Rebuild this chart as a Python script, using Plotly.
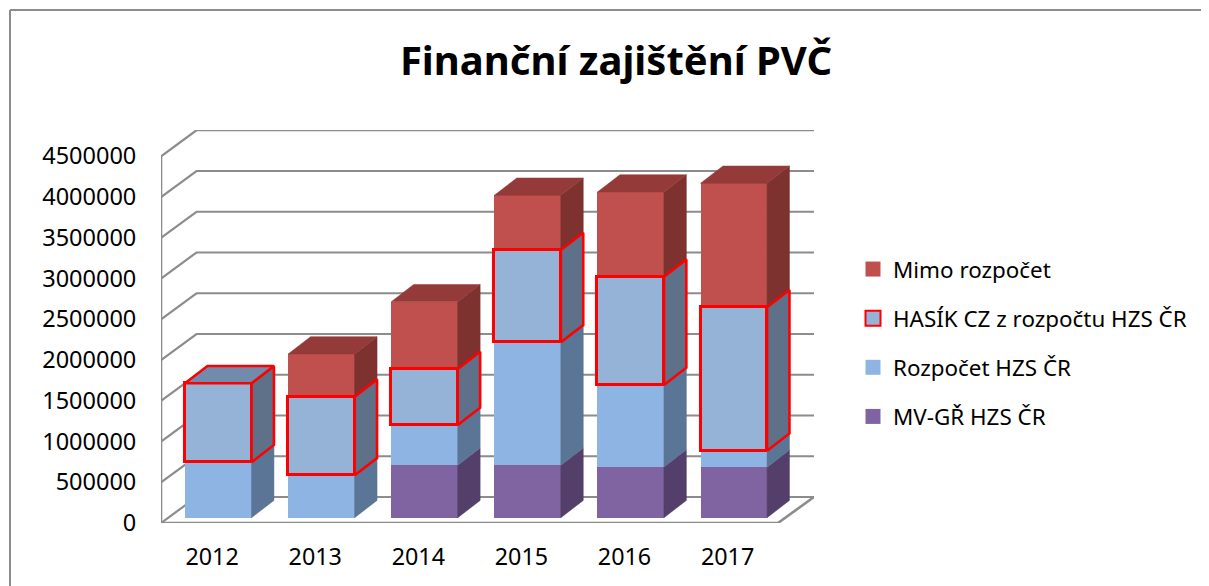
import plotly.graph_objects as go

years = ["2012", "2013", "2014", "2015", "2016", "2017"]
mv_gr = [0, 0, 643000, 643000, 622000, 618000]
rozpocet = [680000, 520000, 494000, 1509000, 1006000, 204000]
hasik = [969000, 965000, 688000, 1133000, 1329000, 1760000]
mimo = [0, 524000, 825000, 671000, 1039000, 1521000]
y_ticks = [0, 500000, 1000000, 1500000, 2000000, 2500000, 3000000, 3500000, 4000000, 4500000]

# Page has an 8 px body margin; figure coordinates below are reference pixels minus that margin
OFF = 8
W, H = 1209, 586 - OFF
L, R, T, B = 161 - OFF, 814 - OFF, 130 - OFF, 523 - OFF

# Scales and pseudo-3D projection
PX_X = 103.1
PX_Y = 81.5 / 1e6
BAR_ZERO_PX = 517.7 - OFF
BAR_CENTER0 = 218.3 - OFF
BAR_W = 66.5 / PX_X
DX_BAR, DY_BAR = 22.4 / PX_X, 17.3 / PX_Y
DX_WALL, DY_WALL = 35.5 / PX_X, 26 / PX_Y
x0 = (L - BAR_CENTER0) / PX_X
x1 = (R - BAR_CENTER0) / PX_X
x_front_end = (778 - OFF - BAR_CENTER0) / PX_X
y_top = (B - T) / PX_Y
y2_lo = -(B - BAR_ZERO_PX) / PX_Y
y2_hi = (BAR_ZERO_PX - T) / PX_Y


def paper_x(px):
    return (px - OFF - L) / (R - L)


def paper_y(py):
    return 1 - (py - OFF - T) / (B - T)


GRID = "#8c8c8c"
RED = "#ff0000"
xpos = list(range(len(years)))

fig = go.Figure()

# Back wall, side wall and floor
gx, gy = [], []
for v in y_ticks:
    gx += [x0, x0 + DX_WALL, x1, None]
    gy += [v, v + DY_WALL, v + DY_WALL, None]
fig.add_trace(go.Scatter(x=gx, y=gy, mode="lines", line=dict(color=GRID, width=2.2),
                         hoverinfo="skip", showlegend=False, cliponaxis=False))
fig.add_trace(go.Scatter(x=[x0, x0, x_front_end, x1], y=[y_ticks[-1], 0, 0, DY_WALL],
                         mode="lines", line=dict(color=GRID, width=2.6),
                         hoverinfo="skip", showlegend=False, cliponaxis=False))


def cumulate(*layers):
    out = [0] * len(years)
    for layer in layers:
        out = [a + b for a, b in zip(out, layer)]
    return out


series = [
    dict(name="MV-GŘ HZS ČR", v=mv_gr, base=cumulate(), front="#8064A2", side="#533F6A", top="#654F80", red=False),
    dict(name="Rozpočet HZS ČR", v=rozpocet, base=cumulate(mv_gr), front="#8DB4E2", side="#5A7595", top="#7090B5", red=False),
    dict(name="Mimo rozpočet", v=mimo, base=cumulate(mv_gr, rozpocet, hasik), front="#C0504D", side="#7D322F", top="#943A38", red=False),
    dict(name="HASÍK CZ z rozpočtu HZS ČR", v=hasik, base=cumulate(mv_gr, rozpocet), front="#95B3D7", side="#5F7089", top="#708BAB", red=True),
]

# Front faces
for s in series:
    fig.add_trace(go.Bar(x=xpos, y=s["v"], base=s["base"], width=BAR_W, yaxis="y2",
                         marker=dict(color=s["front"], opacity=1,
                                     line=dict(color=RED if s["red"] else s["front"], width=3 if s["red"] else 0)),
                         name=s["name"], showlegend=False, cliponaxis=False))

# Side and top faces
totals = cumulate(mv_gr, rozpocet, hasik, mimo)
for s in series:
    sx, sy, tx, ty = [], [], [], []
    for i, (val, b) in enumerate(zip(s["v"], s["base"])):
        if val == 0:
            continue
        r = i + BAR_W / 2
        l = i - BAR_W / 2
        hi = b + val
        sx += [r, r + DX_BAR, r + DX_BAR, r, r, None]
        sy += [b, b + DY_BAR, hi + DY_BAR, hi, b, None]
        if hi == totals[i]:
            tx += [l, l + DX_BAR, r + DX_BAR, r, l, None]
            ty += [hi, hi + DY_BAR, hi + DY_BAR, hi, hi, None]
    line = dict(color=RED, width=2.6) if s["red"] else dict(color=s["side"], width=0.5)
    fig.add_trace(go.Scatter(x=sx, y=sy, yaxis="y2", mode="lines", fill="toself", fillcolor=s["side"],
                             line=line, hoverinfo="skip", showlegend=False, cliponaxis=False))
    if tx:
        tline = dict(color=RED, width=2.6) if s["red"] else dict(color=s["top"], width=0.5)
        fig.add_trace(go.Scatter(x=tx, y=ty, yaxis="y2", mode="lines", fill="toself", fillcolor=s["top"],
                                 line=tline, hoverinfo="skip", showlegend=False, cliponaxis=False))

# Legend entries
for s in [series[2], series[3], series[1], series[0]]:
    fig.add_trace(go.Scatter(x=[None], y=[None], mode="markers", name=s["name"], legendgroup=s["name"],
                             marker=dict(symbol="square", size=15, color=s["front"],
                                         line=dict(color=RED if s["red"] else s["front"], width=2 if s["red"] else 0))))

FONT = "Noto Sans, sans-serif"
fig.update_layout(
    width=W, height=H, autosize=False,
    margin=dict(l=L, r=W - R, t=T, b=H - B, pad=0),
    paper_bgcolor="white", plot_bgcolor="rgba(0,0,0,0)",
    barmode="overlay", bargap=0,
    font=dict(family=FONT, size=22, color="#000000"),
    title=dict(text="<b>Finanční zajištění PVČ</b>", x=(616 - OFF) / W, xanchor="center",
               y=1 - (61 - OFF) / H, yanchor="middle", font=dict(family=FONT, size=40, color="#000000")),
    xaxis=dict(range=[x0, x1], tickmode="array", tickvals=[i - 0.06 for i in xpos], ticktext=years,
               automargin=False,
               ticks="outside", ticklen=13, tickcolor="rgba(0,0,0,0)", showgrid=False, zeroline=False,
               showline=False, tickfont=dict(size=23.3)),
    yaxis=dict(range=[0, y_top], tickmode="array", tickvals=y_ticks, ticktext=[str(v) for v in y_ticks],
               automargin=False,
               ticks="outside", ticklen=19, tickcolor="rgba(0,0,0,0)", showgrid=False, zeroline=False,
               showline=False, tickfont=dict(size=23.5)),
    yaxis2=dict(range=[y2_lo, y2_hi], overlaying="y", visible=False, automargin=False),
    legend=dict(x=paper_x(853), xanchor="left", y=paper_y(248), yanchor="top", tracegroupgap=17,
                font=dict(size=22.4), bgcolor="rgba(0,0,0,0)"),
    shapes=[
        dict(type="line", xref="paper", yref="paper", x0=paper_x(10), x1=paper_x(1217), y0=paper_y(10), y1=paper_y(10),
             line=dict(color=GRID, width=2)),
        dict(type="line", xref="paper", yref="paper", x0=paper_x(10), x1=paper_x(10), y0=paper_y(10), y1=paper_y(594),
             line=dict(color=GRID, width=2)),
    ],
)
fig.write_html("out.html")
